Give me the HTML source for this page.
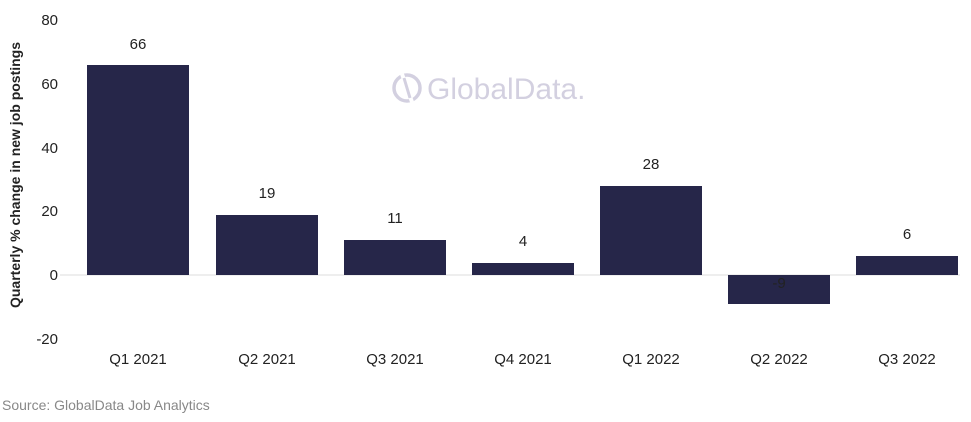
<!DOCTYPE html>
<html><head><style>
body{margin:0;background:#fff;}
svg text{font-family:"Liberation Sans",sans-serif;}
</style></head><body>
<svg width="971" height="417" xmlns="http://www.w3.org/2000/svg">
<g fill="#222" font-size="15" text-anchor="end">
<text x="58" y="25">80</text><text x="58" y="89">60</text><text x="58" y="153">40</text><text x="58" y="216">20</text><text x="58" y="280">0</text><text x="58" y="344">-20</text>
</g>
<text transform="translate(20,175) rotate(-90)" text-anchor="middle" font-size="14" font-weight="bold" fill="#222">Quarterly % change in new job postings</text>
<g opacity="0.75">
<circle cx="407" cy="88" r="13" fill="none" stroke="#c5c1d6" stroke-width="3.5"/>
<line x1="402" y1="74" x2="412" y2="102" stroke="#fff" stroke-width="4"/>
<line x1="404" y1="78" x2="410" y2="98" stroke="#c5c1d6" stroke-width="3"/>
<text x="427" y="99" font-size="30" fill="#c5c1d6">GlobalData.</text>
</g>
<line x1="60" y1="275" x2="960" y2="275" stroke="#ddd" stroke-width="1"/>
<g fill="#262649">
<rect x="87" y="65" width="102" height="210"/>
<rect x="216" y="215" width="102" height="60"/>
<rect x="344" y="240" width="102" height="35"/>
<rect x="472" y="263" width="102" height="12"/>
<rect x="600" y="186" width="102" height="89"/>
<rect x="728" y="275" width="102" height="29"/>
<rect x="856" y="256" width="102" height="19"/>
</g>
<g font-size="15" fill="#222" text-anchor="middle">
<text x="138" y="49">66</text><text x="267" y="198">19</text><text x="395" y="223">11</text><text x="523" y="246">4</text><text x="651" y="169">28</text><text x="779" y="288">-9</text><text x="907" y="239">6</text>
<text x="138" y="364">Q1 2021</text><text x="267" y="364">Q2 2021</text><text x="395" y="364">Q3 2021</text><text x="523" y="364">Q4 2021</text><text x="651" y="364">Q1 2022</text><text x="779" y="364">Q2 2022</text><text x="907" y="364">Q3 2022</text>
</g>
<text x="2" y="410" font-size="14" fill="#888">Source: GlobalData Job Analytics</text>
</svg>
</body></html>
